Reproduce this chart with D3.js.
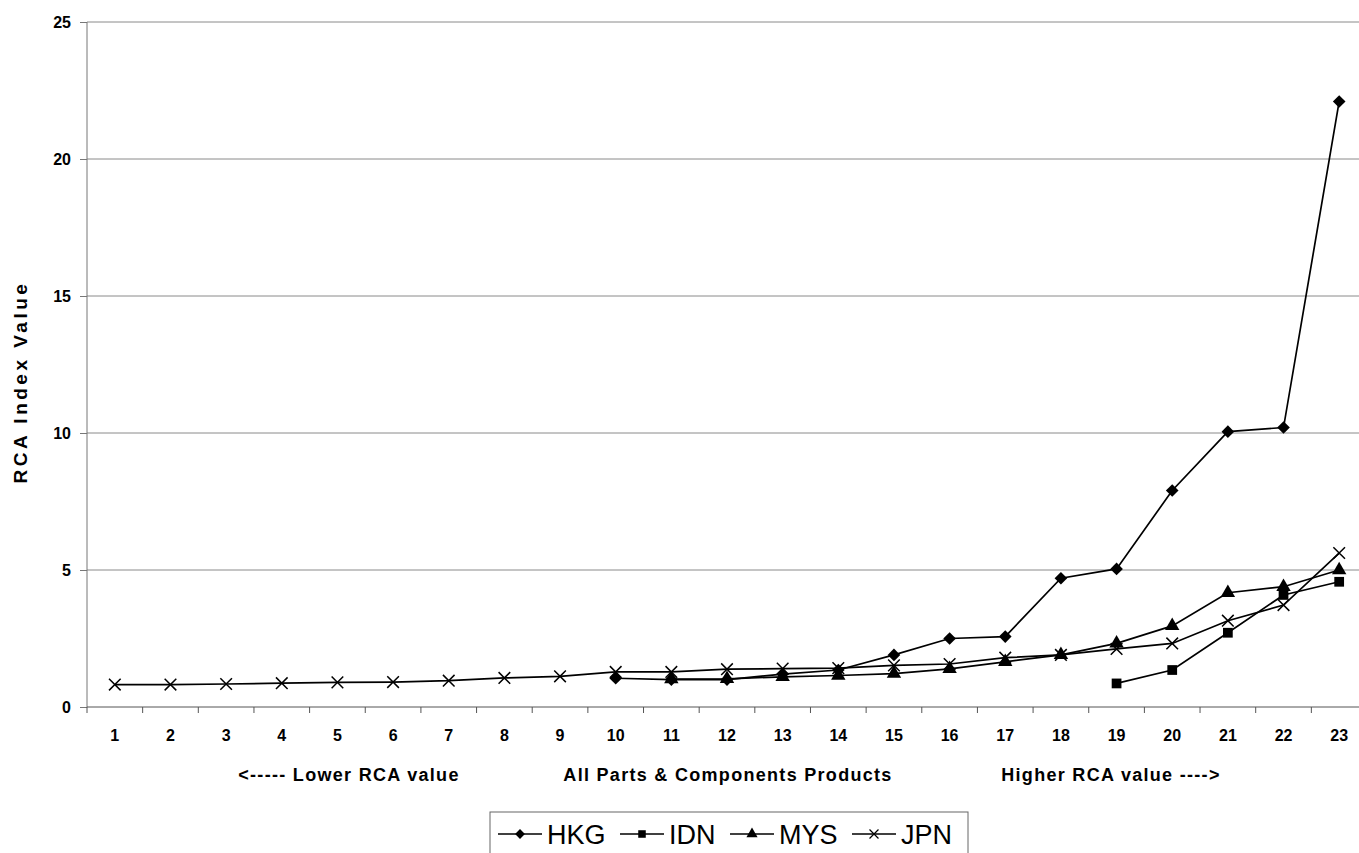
<!DOCTYPE html>
<meta charset="utf-8">
<style>
  body { margin: 0; background: #fff; }
  text { font-family: Arial, "Liberation Sans", sans-serif; }
</style>
<svg width="1359" height="853"></svg>
<script src="https://d3js.org/d3.v7.min.js"></script>
<script>

var svg = d3.select("svg");

// data
var categories = [1, 2, 3, 4, 5, 6, 7, 8, 9, 10, 11, 12, 13, 14, 15, 16, 17, 18, 19, 20, 21, 22, 23];
var hkg = [null, null, null, null, null, null, null, null, null, 1.05, 1.0, 1.0, 1.2, 1.35, 1.9, 2.5, 2.57, 4.7, 5.04, 7.9, 10.05, 10.2, 22.1];
var idn = [null, null, null, null, null, null, null, null, null, null, null, null, null, null, null, null, null, null, 0.86, 1.35, 2.71, 4.09, 4.57];
var mys = [null, null, null, null, null, null, null, null, null, null, 1.02, 1.03, 1.1, 1.15, 1.22, 1.39, 1.65, 1.9, 2.32, 2.96, 4.17, 4.39, 5.0];
var jpn = [0.82, 0.82, 0.84, 0.87, 0.9, 0.91, 0.96, 1.06, 1.12, 1.28, 1.28, 1.38, 1.4, 1.42, 1.52, 1.57, 1.8, 1.9, 2.12, 2.32, 3.15, 3.72, 5.62];
var yTicks = [0, 5, 10, 15, 20, 25];

// square turned 45 degrees, like the spreadsheet diamond
var squareDiamond = {
  draw: function(ctx, size) {
    var r = Math.sqrt(size / 2);
    ctx.moveTo(0, -r);
    ctx.lineTo(r, 0);
    ctx.lineTo(0, r);
    ctx.lineTo(-r, 0);
    ctx.closePath();
  }
};

var series = [
  { name: "HKG", values: hkg, symbol: squareDiamond, size: 80 },
  { name: "IDN", values: idn, symbol: d3.symbolSquare, size: 95 },
  { name: "MYS", values: mys, symbol: d3.symbolTriangle, size: 90 },
  { name: "JPN", values: jpn, symbol: d3.symbolTimes, size: 90 }
];

var plotLeft = 87, plotRight = 1367, plotTop = 22, plotBottom = 707;

var x = d3.scaleBand().domain(categories).range([plotLeft, plotRight]);
var y = d3.scaleLinear().domain([0, 25]).range([plotBottom, plotTop]);
var cx = function(c) { return x(c) + x.bandwidth() / 2; };

// gridlines
svg.append("g")
  .selectAll("line")
  .data(yTicks.filter(function(d) { return d > 0; }))
  .join("line")
  .attr("x1", plotLeft).attr("x2", 1359)
  .attr("y1", function(d) { return y(d); })
  .attr("y2", function(d) { return y(d); })
  .attr("stroke", "#8a8a8a")
  .attr("stroke-width", 1);

// y axis
var yAxis = svg.append("g")
  .attr("transform", "translate(" + plotLeft + ",0)")
  .call(d3.axisLeft(y).tickValues(yTicks).tickSize(7).tickPadding(9));
yAxis.select(".domain").attr("stroke", "#777").attr("d", "M0," + plotTop + "V" + plotBottom);
yAxis.selectAll(".tick line").attr("stroke", "#777");
yAxis.selectAll("text")
  .style("font-size", "16px").style("font-weight", "bold").attr("fill", "#000");

// x axis
var xAxis = svg.append("g")
  .attr("transform", "translate(0," + plotBottom + ")")
  .call(d3.axisBottom(x).tickSize(0).tickPadding(23));
xAxis.select(".domain").attr("stroke", "#555").attr("d", "M" + plotLeft + ",0H1359");
xAxis.selectAll("text")
  .style("font-size", "16px").style("font-weight", "bold").attr("fill", "#000");

// ticks between categories
svg.append("g")
  .selectAll("line")
  .data(categories)
  .join("line")
  .attr("x1", function(c) { return x(c); })
  .attr("x2", function(c) { return x(c); })
  .attr("y1", plotBottom).attr("y2", plotBottom + 6)
  .attr("stroke", "#555");

// y axis title
svg.append("text")
  .attr("transform", "translate(27,382) rotate(-90)")
  .attr("text-anchor", "middle")
  .style("font-size", "19px").style("font-weight", "bold")
  .style("letter-spacing", "3.5px")
  .text("RCA Index Value");

// x axis captions
var captions = [
  { text: "<----- Lower RCA value", at: 349 },
  { text: "All Parts & Components Products", at: 728 },
  { text: "Higher RCA value ---->", at: 1111 }
];
svg.append("g")
  .selectAll("text")
  .data(captions)
  .join("text")
  .attr("x", function(d) { return d.at; })
  .attr("y", 781)
  .attr("text-anchor", "middle")
  .style("font-size", "18px").style("font-weight", "bold")
  .style("letter-spacing", "1.3px")
  .text(function(d) { return d.text; });

// lines
var line = d3.line()
  .defined(function(d) { return d[1] != null; })
  .x(function(d) { return cx(d[0]); })
  .y(function(d) { return y(d[1]); });

series.forEach(function(s) {
  var pts = categories.map(function(c, i) { return [c, s.values[i]]; });
  svg.append("path")
    .datum(pts)
    .attr("d", line)
    .attr("fill", "none")
    .attr("stroke", "#000")
    .attr("stroke-width", 1.7);
});

series.forEach(function(s) {
  var pts = categories.map(function(c, i) { return [c, s.values[i]]; })
    .filter(function(d) { return d[1] != null; });
  var sym = d3.symbol().type(s.symbol).size(s.size);
  svg.append("g")
    .selectAll("path")
    .data(pts)
    .join("path")
    .attr("transform", function(d) { return "translate(" + cx(d[0]) + "," + y(d[1]) + ")"; })
    .attr("d", sym)
    .attr("fill", s.symbol === d3.symbolTimes ? "none" : "#000")
    .attr("stroke", "#000")
    .attr("stroke-width", s.symbol === d3.symbolTimes ? 1.5 : 0);
});

// legend
var legend = svg.append("g");
legend.append("rect")
  .attr("x", 490).attr("y", 812).attr("width", 478).attr("height", 60)
  .attr("fill", "#fff").attr("stroke", "#666");

var legendX = [498, 620, 730, 852];
series.forEach(function(s, i) {
  var g = legend.append("g").attr("transform", "translate(" + legendX[i] + ",834)");
  g.append("line").attr("x1", 0).attr("x2", 44).attr("stroke", "#000").attr("stroke-width", 1.5);
  g.append("path")
    .attr("transform", "translate(22,0)")
    .attr("d", d3.symbol().type(s.symbol).size(s.size * 0.6))
    .attr("fill", s.symbol === d3.symbolTimes ? "none" : "#000")
    .attr("stroke", "#000")
    .attr("stroke-width", s.symbol === d3.symbolTimes ? 1.2 : 0);
  g.append("text")
    .attr("x", 49).attr("y", 10)
    .style("font-size", "27px")
    .text(s.name);
});

</script>
